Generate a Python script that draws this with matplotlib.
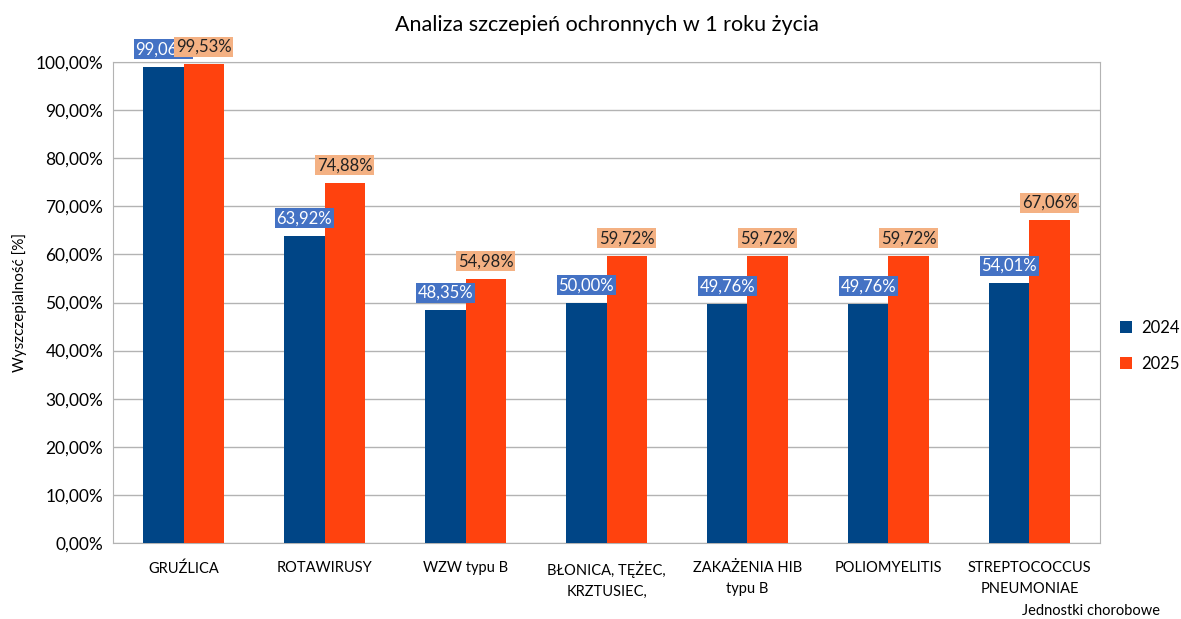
import numpy as np
import matplotlib.pyplot as plt
from matplotlib.ticker import FuncFormatter

plt.rcParams['font.family'] = ['Lato', 'DejaVu Sans']

categories = ["GRUŹLICA", "ROTAWIRUSY", "WZW typu B", "BŁONICA, TĘŻEC,\nKRZTUSIEC,",
              "ZAKAŻENIA HIB\ntypu B", "POLIOMYELITIS", "STREPTOCOCCUS\nPNEUMONIAE"]
v2024 = [99.06, 63.92, 48.35, 50.00, 49.76, 49.76, 54.01]
v2025 = [99.53, 74.88, 54.98, 59.72, 59.72, 59.72, 67.06]

c2024 = '#004586'
c2025 = '#ff420e'
box2024 = '#4472c4'
box2025 = '#f4b183'

fig = plt.figure(figsize=(11.81, 6.19), dpi=100)
ax = fig.add_axes([0.0957, 0.1228, 0.8357, 0.777])

x = np.arange(len(categories))
w = 0.285
ax.bar(x - w / 2, v2024, w, color=c2024, label='2024', zorder=3)
ax.bar(x + w / 2, v2025, w, color=c2025, label='2025', zorder=3)

def pct(v):
    return f"{v:.2f}%".replace('.', ',')

# etykiety danych nad słupkami
for xi, v in zip(x - w / 2, v2024):
    ax.annotate(pct(v), (xi, v), xytext=(0, 12.5), textcoords='offset points', ha='center', va='center',
                fontsize=12, color='white', zorder=5,
                bbox=dict(boxstyle='square,pad=0.12', fc=box2024, ec='none'))
for xi, v in zip(x + w / 2, v2025):
    ax.annotate(pct(v), (xi, v), xytext=(0, 12.5), textcoords='offset points', ha='center', va='center',
                fontsize=12, color='#222222', zorder=6,
                bbox=dict(boxstyle='square,pad=0.12', fc=box2025, ec='none'))

ax.set_xlim(-0.5, len(categories) - 0.5)
ax.set_ylim(0, 100)
ax.set_yticks(np.arange(0, 101, 10))
ax.yaxis.set_major_formatter(FuncFormatter(lambda v, p: pct(v)))
ax.set_xticks(x)
ax.set_xticklabels(categories, fontsize=10.5, linespacing=1.6)
ax.tick_params(axis='y', labelsize=12.5, length=0, pad=7)
ax.tick_params(axis='x', length=0, pad=13)
ax.grid(axis='y', color='#b3b3b3', linewidth=1, zorder=0)
for s in ax.spines.values():
    s.set_color('#b3b3b3')

ax.set_ylabel("Wyszczepialność [%]", fontsize=11, labelpad=6)
ax.set_title("Analiza szczepień ochronnych w 1 roku życia", fontsize=15.5, pad=22)
fig.text(0.982, 0.013, "Jednostki chorobowe", ha='right', va='center', fontsize=10.5)

ax.legend(loc='center left', bbox_to_anchor=(1.005, 0.41), frameon=False, fontsize=12,
          handlelength=0.7, handleheight=0.7, labelspacing=1.2, handletextpad=0.6)

fig.savefig("out.png", dpi=100)
